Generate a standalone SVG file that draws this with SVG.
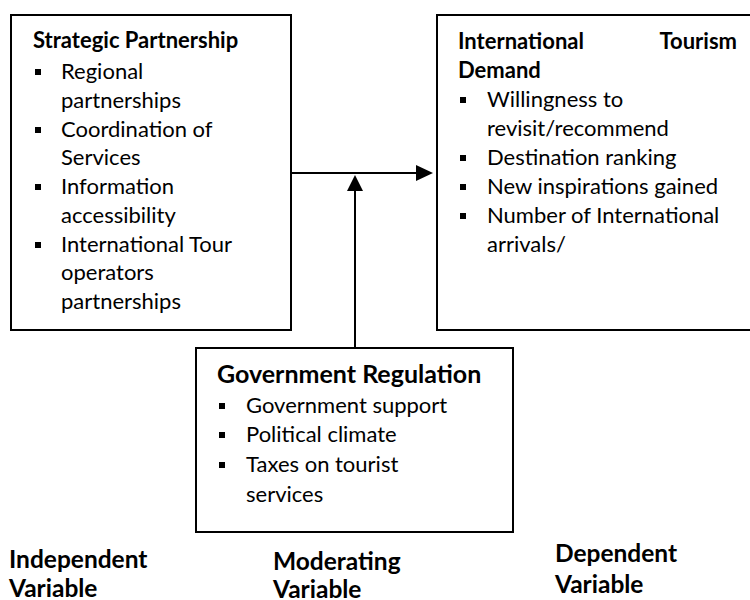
<svg xmlns="http://www.w3.org/2000/svg" width="750" height="600" viewBox="0 0 750 600">
  <defs>
    <style>
      .box { fill: #ffffff; stroke: #000000; stroke-width: 2; }
      .link { fill: none; stroke: #000000; stroke-width: 2; }
      .head { fill: #000000; stroke: none; }
      text { font-family: Lato, "Open Sans", "Liberation Sans", sans-serif; fill: #000000; }
      .title { font-weight: bold; font-size: 22px; }
      .gtitle { font-weight: bold; font-size: 25px; }
      .item { font-size: 22px; }
      .label { font-weight: bold; font-size: 24.5px; }
      .bullet { fill: #000000; }
    </style>
  </defs>

  <!-- Independent variable box -->
  <g id="strategic-partnership">
    <rect class="box" x="11" y="15" width="280" height="315"/>
    <text class="title" x="33" y="48">Strategic Partnership</text>
    <rect class="bullet" x="35" y="69" width="6" height="6"/>
    <text class="item" x="61" y="79">Regional</text>
    <text class="item" x="61" y="108">partnerships</text>
    <rect class="bullet" x="35" y="127" width="6" height="6"/>
    <text class="item" x="61" y="137">Coordination of</text>
    <text class="item" x="61" y="165">Services</text>
    <rect class="bullet" x="35" y="184" width="6" height="6"/>
    <text class="item" x="61" y="194">Information</text>
    <text class="item" x="61" y="223">accessibility</text>
    <rect class="bullet" x="35" y="242" width="6" height="6"/>
    <text class="item" x="61" y="252">International Tour</text>
    <text class="item" x="61" y="280">operators</text>
    <text class="item" x="61" y="309">partnerships</text>
  </g>

  <!-- Dependent variable box -->
  <g id="tourism-demand">
    <rect class="box" x="437" y="15" width="320" height="315"/>
    <text class="title" x="458" y="49">International</text>
    <text class="title" x="737" y="49" text-anchor="end">Tourism</text>
    <text class="title" x="458" y="78">Demand</text>
    <rect class="bullet" x="460" y="97" width="6" height="6"/>
    <text class="item" x="487" y="107">Willingness to</text>
    <text class="item" x="487" y="136">revisit/recommend</text>
    <rect class="bullet" x="460" y="155" width="6" height="6"/>
    <text class="item" x="487" y="165">Destination ranking</text>
    <rect class="bullet" x="460" y="184" width="6" height="6"/>
    <text class="item" x="487" y="194">New inspirations gained</text>
    <rect class="bullet" x="460" y="213" width="6" height="6"/>
    <text class="item" x="487" y="223">Number of International</text>
    <text class="item" x="487" y="252">arrivals/</text>
  </g>

  <!-- Moderating variable box -->
  <g id="government-regulation">
    <rect class="box" x="196" y="348" width="317" height="184"/>
    <text class="gtitle" x="217" y="383">Government Regulation</text>
    <rect class="bullet" x="219" y="403" width="6" height="6"/>
    <text class="item" x="246" y="413">Government support</text>
    <rect class="bullet" x="219" y="432" width="6" height="6"/>
    <text class="item" x="246" y="442">Political climate</text>
    <rect class="bullet" x="219" y="462" width="6" height="6"/>
    <text class="item" x="246" y="472">Taxes on tourist</text>
    <text class="item" x="246" y="502">services</text>
  </g>

  <!-- Connectors -->
  <g id="connectors">
    <line class="link" x1="291" y1="173" x2="418" y2="173"/>
    <polygon class="head" points="433,173 416,165 416,181"/>
    <line class="link" x1="355" y1="348" x2="355" y2="189"/>
    <polygon class="head" points="355,175 347,191 363,191"/>
  </g>

  <!-- Column labels -->
  <g id="labels">
    <text class="label" x="9" y="568">Independent</text>
    <text class="label" x="9" y="597">Variable</text>
    <text class="label" x="273" y="570">Moderating</text>
    <text class="label" x="273" y="598">Variable</text>
    <text class="label" x="555" y="562">Dependent</text>
    <text class="label" x="555" y="593">Variable</text>
  </g>
</svg>
